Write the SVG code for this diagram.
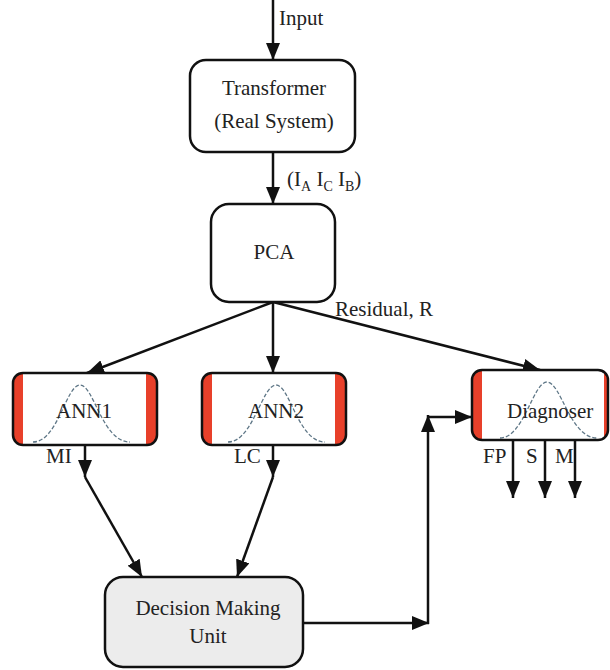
<svg xmlns="http://www.w3.org/2000/svg" width="610" height="670" viewBox="0 0 610 670">
<style>
.box{fill:#fff;stroke:#111;stroke-width:2.5}
.dmu{fill:#ececec;stroke:#111;stroke-width:2.5}
.t{font-family:"Liberation Serif","Times New Roman","DejaVu Serif",serif;font-size:21px;fill:#222}
.s{font-size:14px}
.c{text-anchor:middle}
.ln{fill:none;stroke:#111;stroke-width:2.5}
.arr{marker-end:url(#ah)}
.bell{fill:none;stroke:#5f7787;stroke-width:1.3;stroke-dasharray:4 2}
.red{fill:#e8402a}
</style>
<defs>
<marker id="ah" viewBox="0 0 17 14" refX="17" refY="7" markerWidth="17" markerHeight="14" markerUnits="userSpaceOnUse" orient="auto">
<path d="M0,0 L17,7 L0,14 z" fill="#111"/>
</marker>
<clipPath id="c1"><rect x="13" y="373" width="144" height="72" rx="10"/></clipPath>
<clipPath id="c2"><rect x="202" y="373" width="144" height="72" rx="10"/></clipPath>
<clipPath id="c3"><rect x="472" y="370" width="136" height="70" rx="10"/></clipPath>
</defs>
<rect width="610" height="670" fill="#fff"/>

<g id="connectors">
<path class="ln arr" d="M273,0 L273,60"/>
<path class="ln arr" d="M273,152 L273,204"/>
<path class="ln arr" d="M273,302 L87,373"/>
<path class="ln arr" d="M273,302 L273,373"/>
<path class="ln arr" d="M273,302 L540,370"/>
<path class="ln arr" d="M85,445 L85,477"/>
<path class="ln arr" d="M85,477 L142,577"/>
<path class="ln arr" d="M273,445 L273,477"/>
<path class="ln arr" d="M273,477 L237,577"/>
<path class="ln arr" d="M303,623 L429,623"/>
<path class="ln arr" d="M428,624 L428,415"/>
<path class="ln arr" d="M428,417 L472,417"/>
<path class="ln arr" d="M513,440 L513,498"/>
<path class="ln arr" d="M545,440 L545,498"/>
<path class="ln arr" d="M575,440 L575,498"/>
<text class="t" x="279" y="25">Input</text>
<text class="t" x="287" y="186">(I<tspan class="s" dy="5">A</tspan><tspan dy="-5"> I</tspan><tspan class="s" dy="5">C</tspan><tspan dy="-5"> I</tspan><tspan class="s" dy="5">B</tspan><tspan dy="-5">)</tspan></text>
<text class="t" x="335" y="316">Residual, R</text>
<text class="t" x="46" y="463">MI</text>
<text class="t" x="234" y="463">LC</text>
<text class="t" x="483" y="463">FP</text>
<text class="t" x="526" y="463">S</text>
<text class="t" x="555" y="463">M</text>
</g>

<g id="transformer">
<rect class="box" x="190" y="60" width="165" height="92" rx="16"/>
<text class="t c" x="274" y="95">Transformer</text>
<text class="t c" x="274" y="128">(Real System)</text>
</g>

<g id="pca">
<rect class="box" x="211" y="204" width="124" height="98" rx="18"/>
<text class="t c" x="274" y="259">PCA</text>
</g>

<g id="ann1">
<rect x="13" y="373" width="144" height="72" rx="10" fill="#fff"/>
<g clip-path="url(#c1)"><rect class="red" x="13" y="373" width="10" height="72"/><rect class="red" x="146" y="373" width="11" height="72"/></g>
<path class="bell" d="M33,442 C58,442 66,385 80,385 C94,385 102,442 130,442"/>
<rect x="13" y="373" width="144" height="72" rx="10" fill="none" stroke="#111" stroke-width="2.5"/>
<text class="t c" x="84" y="418">ANN1</text>
</g>

<g id="ann2">
<rect x="202" y="373" width="144" height="72" rx="10" fill="#fff"/>
<g clip-path="url(#c2)"><rect class="red" x="202" y="373" width="10" height="72"/><rect class="red" x="335" y="373" width="11" height="72"/></g>
<path class="bell" d="M228,442 C253,442 262,385 276,385 C290,385 298,442 325,442"/>
<rect x="202" y="373" width="144" height="72" rx="10" fill="none" stroke="#111" stroke-width="2.5"/>
<text class="t c" x="276" y="418">ANN2</text>
</g>

<g id="diagnoser">
<rect x="472" y="370" width="136" height="70" rx="10" fill="#fff"/>
<g clip-path="url(#c3)"><rect class="red" x="472" y="370" width="10" height="70"/><rect class="red" x="604" y="370" width="6" height="70"/></g>
<path class="bell" d="M500,438 C524,438 533,382 547,382 C561,382 570,438 597,438"/>
<rect x="472" y="370" width="136" height="70" rx="10" fill="none" stroke="#111" stroke-width="2.5"/>
<text class="t" x="507" y="418">Diagnoser</text>
</g>

<g id="dmu">
<rect class="dmu" x="105" y="577" width="198" height="90" rx="18"/>
<text class="t c" x="208" y="615">Decision Making</text>
<text class="t c" x="208" y="643">Unit</text>
</g>
</svg>
